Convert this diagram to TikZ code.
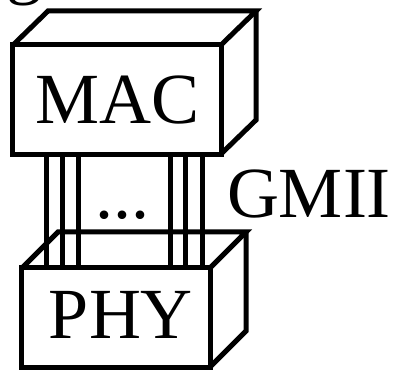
\documentclass[tikz,border=0pt]{standalone}
\usepackage{fontspec}
\setmainfont{Liberation Serif}
\usetikzlibrary{calc}
\begin{document}
\begin{tikzpicture}[x=1bp,y=1bp,
  face/.style={draw,line width=5bp,rectangle,inner sep=0pt,outer sep=0pt},
  edge/.style={line width=5bp},
  wire/.style={line width=5bp},
  lbl/.style={inner sep=0pt,outer sep=0pt,anchor=base,font=\fontsize{72bp}{80bp}\selectfont}]
\useasboundingbox (0,0) rectangle (396,379);
% stray glyph at the top edge
\node[lbl,anchor=base west] (g) at (6,388.5) {g};
% MAC box
\node[face,minimum width=208bp,minimum height=109bp] (MAC) at (117,279.5) {};
\draw[edge] (MAC.north west) -- ++(35,34) coordinate (macbtl) -- ($(MAC.north east)+(35,34)$) coordinate (macbtr) -- (MAC.north east);
\draw[edge] (macbtr) -- ($(MAC.south east)+(35,34)$) -- (MAC.south east);
% PHY box
\node[face,minimum width=188bp,minimum height=99bp] (PHY) at (116,61.5) {};
\draw[edge] (PHY.north west) -- ++(36,36) coordinate (phybtl) -- ($(PHY.north east)+(36,36)$) coordinate (phybtr) -- (PHY.north east);
\draw[edge] (phybtr) -- ($(PHY.south east)+(36,36)$) -- (PHY.south east);
% wires
\foreach \x in {46.5,62.5,78.5,170,185.5,202}
  \draw[wire] (\x,0 |- MAC.south) -- (\x,0 |- PHY.north);
% labels
\node[lbl] (mact) at (117.5,256) {MAC};
\node[lbl] (phyt) at (121,41) {PHY};
\node[lbl] (dots) at (122.5,161) {...};
\node[lbl] (gmii) at (309,162) {GMII};
\end{tikzpicture}
\end{document}
